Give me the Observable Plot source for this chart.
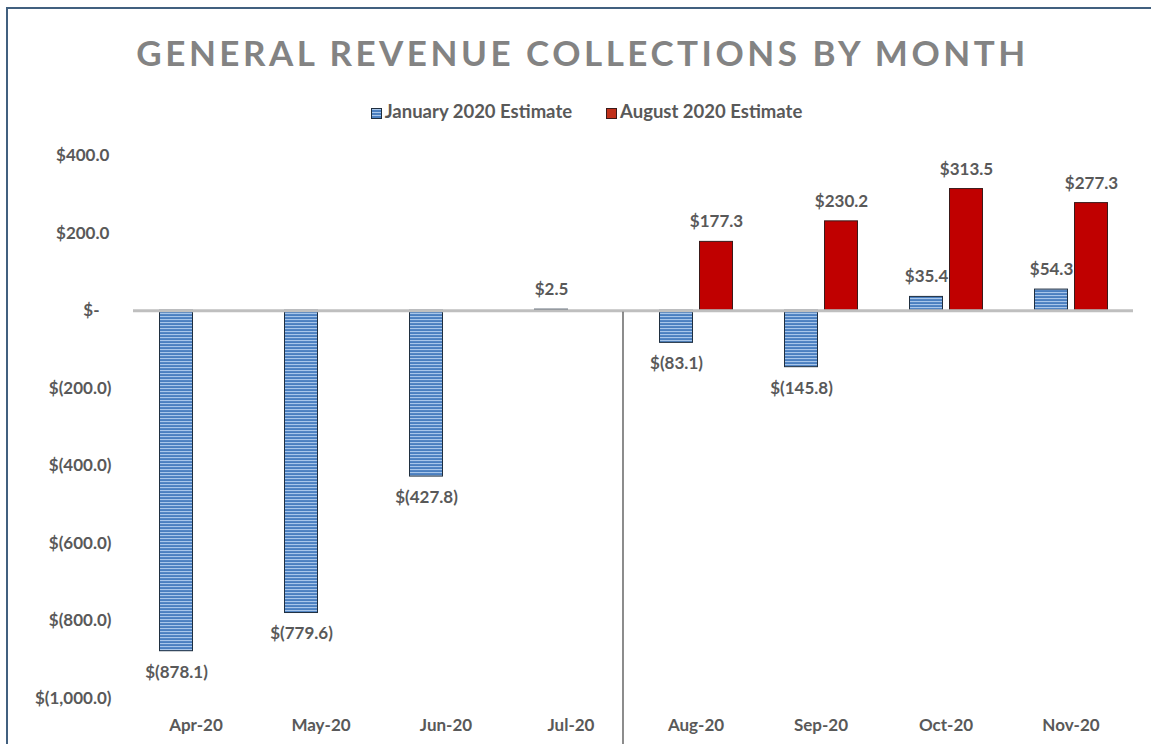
<!DOCTYPE html>
<html>
<head>
<meta charset="utf-8">
<script src="https://cdn.jsdelivr.net/npm/d3@7"></script>
<script src="https://cdn.jsdelivr.net/npm/@observablehq/plot@0.6"></script>
<style>
  html, body { margin: 0; padding: 0; background: #fff; overflow: hidden; }
  #wrap { position: relative; width: 1151px; height: 744px; font-family: Lato, "Open Sans", sans-serif; }
  #frame { position: absolute; left: 6px; top: 7px; width: 1300px; height: 900px;
           border-left: 2px solid #41607f; border-top: 2px solid #41607f; pointer-events: none; }
  #title { position: relative; height: 72px; padding-top: 32px; box-sizing: border-box; line-height: 40px;
           text-align: center; font-size: 35px; font-weight: 700; letter-spacing: 3.5px; color: #838383; padding-left: 14px; }
  #legend { position: relative; margin-top: 26px; height: 26px; line-height: 26px; text-align: center;
            font-size: 18.5px; font-weight: 700; color: #595959; padding-left: 22px; white-space: nowrap; }
  .item { display: inline-block; margin: 0 17px; }
  .sw { display: inline-block; width: 11px; height: 11px; margin-right: 3px; vertical-align: -0.5px; box-sizing: border-box; }
  .sw.jan { background: repeating-linear-gradient(to bottom, #a8c6ea 0 1px, #4a7fc0 1px 3px); border: 1px solid #1f2f40; }
  .sw.aug { background: #c0301a; border: 1px solid #3a1a1a; }
  svg { display: block; position: relative; }
</style>
</head>
<body>
<div id="wrap">
  <div id="frame"></div>
  <div id="title">GENERAL REVENUE COLLECTIONS BY MONTH</div>
  <div id="legend"></div>
  <div id="chart"></div>
</div>
<script>
// ---- data ----
const months = ["Apr-20", "May-20", "Jun-20", "Jul-20", "Aug-20", "Sep-20", "Oct-20", "Nov-20"];
const seriesNames = ["January 2020 Estimate", "August 2020 Estimate"];
const jan2020Estimate = [-878.1, -779.6, -427.8, 2.5, -83.1, -145.8, 35.4, 54.3];
const aug2020Estimate = [null, null, null, null, 177.3, 230.2, 313.5, 277.3];
const yTicks = [400, 200, 0, -200, -400, -600, -800, -1000];

// ---- rows ----
const rows = [];
months.forEach((m, i) => {
  if (jan2020Estimate[i] != null) rows.push({month: m, series: seriesNames[0], value: jan2020Estimate[i]});
  if (aug2020Estimate[i] != null) rows.push({month: m, series: seriesNames[1], value: aug2020Estimate[i]});
});

const fmtNum = v => Math.abs(v).toLocaleString("en-US", {minimumFractionDigits: 1, maximumFractionDigits: 1});
const fmtLabel = v => v < 0 ? `$(${fmtNum(v)})` : `$${fmtNum(v)}`;
const fmtTick = v => v === 0 ? "$-\u2007\u2009" : v < 0 ? `$(${fmtNum(v)})` : `$${fmtNum(v)}\u2009`;

// ---- legend ----
const legend = document.getElementById("legend");
legend.innerHTML = seriesNames.map((s, i) =>
  `<span class="item"><span class="sw ${i === 0 ? "jan" : "aug"}"></span>${s}</span>`).join("");

const janRows = rows.filter(d => d.series === seriesNames[0]);
const augRows = rows.filter(d => d.series === seriesNames[1]);

const chart = Plot.plot({
  width: 1151,
  height: 620,
  marginLeft: 132.5,
  marginRight: 18.5,
  marginTop: 31,
  marginBottom: 46,
  style: {fontFamily: "Lato, 'Open Sans', sans-serif", fontSize: "17px", fontWeight: 700, color: "#595959", background: "transparent"},
  fx: {domain: months, padding: 0, label: null, axis: "bottom", tickSize: 0, tickPadding: 20},
  x: {domain: seriesNames, paddingInner: 0.175, paddingOuter: 0.65, axis: null},
  y: {domain: [-1000, 400], ticks: yTicks, tickFormat: fmtTick, tickSize: 0, tickPadding: 22, label: null},
  marks: [
    Plot.barY(janRows, {fx: "month", x: "series", y: "value", fill: "url(#janStripes)", stroke: "#1f2f40", strokeWidth: 1}),
    Plot.barY(augRows, {fx: "month", x: "series", y: "value", fill: "#c00000", stroke: "#3a1a1a", strokeWidth: 1}),
    Plot.ruleY([0], {stroke: "#bfbfbf", strokeWidth: 3}),
    Plot.text(rows.filter(d => d.value >= 0), {fx: "month", x: "series", y: "value", text: d => fmtLabel(d.value), dy: -20, fill: "#595959", fontWeight: 700}),
    Plot.text(rows.filter(d => d.value < 0), {fx: "month", x: "series", y: "value", text: d => fmtLabel(d.value), dy: 21, fill: "#595959", fontWeight: 700})
  ]
});

// stripe pattern for the January bars
const svg = d3.select(chart);
const defs = svg.insert("defs", ":first-child");
const pat = defs.append("pattern").attr("id", "janStripes").attr("patternUnits", "userSpaceOnUse")
  .attr("width", 6).attr("height", 3);
pat.append("rect").attr("width", 6).attr("height", 3).attr("fill", "#4a7fc0");
pat.append("rect").attr("width", 6).attr("height", 1.1).attr("fill", "#a8c6ea");

// separator line between Jul-20 and Aug-20, from the zero line to the bottom
const fxScale = chart.scale("fx");
const yScale = chart.scale("y");
const sepX = fxScale.apply(months[4]) - 10;
svg.append("line")
  .attr("x1", sepX).attr("x2", sepX)
  .attr("y1", yScale.apply(0) + 1.5).attr("y2", 620)
  .attr("stroke", "#404040").attr("stroke-width", 1.2);

document.getElementById("chart").appendChild(chart);
</script>
</body>
</html>
